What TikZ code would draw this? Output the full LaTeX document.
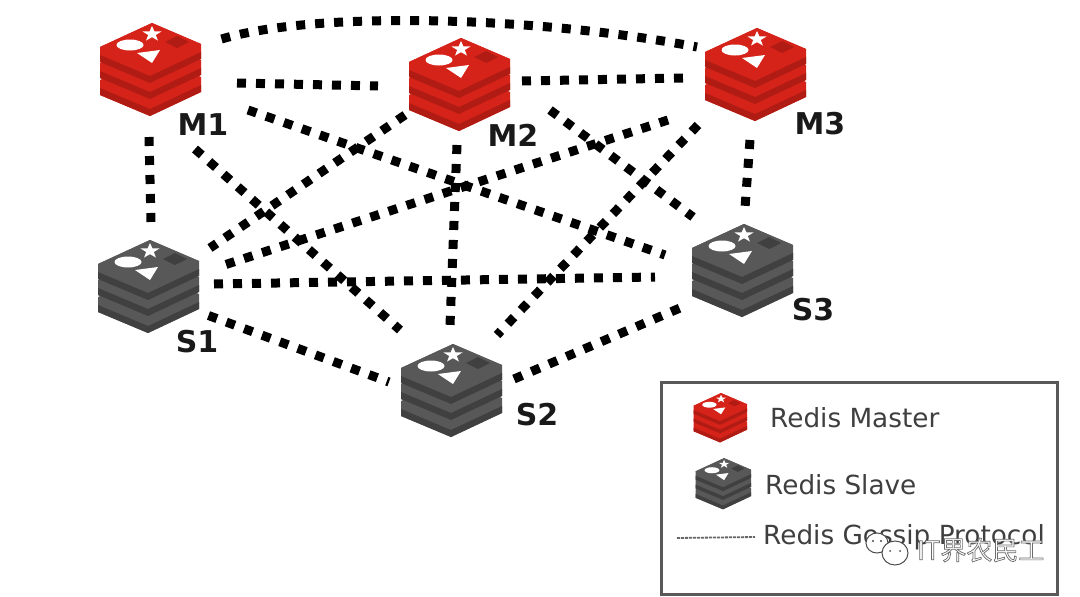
\documentclass[tikz,border=0pt]{standalone}
\usepackage{fontspec}
\setmainfont{DejaVu Sans}
\newfontfamily\cjk{Noto Sans CJK SC}
\definecolor{redA}{HTML}{D6231A}
\definecolor{redB}{HTML}{B01C13}
\definecolor{greyA}{HTML}{585858}
\definecolor{greyB}{HTML}{404040}
\definecolor{legendtext}{HTML}{3F3F3F}
\tikzset{
  x=1pt,y=-1pt,
  pics/redisicon/.style 2 args={code={
    \foreach \d in {33,16,0}{
      \fill[#1] (-50,-23+\d) -- (2,-47+\d) -- (51,-26+\d) -- (51,-11+\d) -- (0,13+\d) -- (-50,-8+\d) -- cycle;
      \fill[#2] (-50,-15+\d) -- (0,6+\d) -- (51,-18+\d) -- (51,-11+\d) -- (0,13+\d) -- (-50,-8+\d) -- cycle;
    }
    \fill[#1] (-50,-23) -- (2,-47) -- (51,-26) -- (0,-2) -- cycle;
    \fill[#2] (27,-34) -- (39,-28) -- (27,-22) -- (15,-28) -- cycle;
    \fill[white] (-20,-25) ellipse [x radius=13.5,y radius=5.5];
    \fill[white] (2,-44) -- (4.4,-38.6) -- (11.5,-38.5) -- (5.8,-35) -- (7.9,-29.5) -- (2,-32.8) -- (-3.9,-29.5) -- (-1.8,-35) -- (-7.5,-38.5) -- (-0.4,-38.6) -- cycle;
    \fill[white] (-13,-17) -- (10,-20) -- (2,-7) -- cycle;
  }},
  iconbox/.style={minimum width=100pt,minimum height=95pt,inner sep=0pt},
  gossip/.style={line width=9pt,dash pattern=on 9pt off 10pt,black},
  hostlabel/.style={font=\fontsize{30}{30}\selectfont\bfseries,text=black!90,inner sep=0pt},
  legendlabel/.style={font=\fontsize{26.3}{26.3}\selectfont,text=legendtext,anchor=west,inner sep=0pt},
  bubble/.style={fill=white,draw=black!70,line width=1pt},
}
\begin{document}
\begin{tikzpicture}
\useasboundingbox (0,0) rectangle (1080,597);
\fill[white] (0,0) rectangle (1080,597);

% hosts
\node[iconbox] (m1) at (150,70) {};
\node[iconbox] (m2) at (459,85) {};
\node[iconbox] (m3) at (755,75) {};
\node[iconbox] (s1) at (148,287) {};
\node[iconbox] (s2) at (451,391) {};
\node[iconbox] (s3) at (742,271) {};

% gossip connectors
\draw[gossip] ([shift={(71.5,-31)}]m1.center) .. controls ([shift={(170,-60)}]m1.center) and ([shift={(-215,-58)}]m3.center) .. ([shift={(-58,-28)}]m3.center);
\draw[gossip] ([shift={(87,13)}]m1.center) -- ([shift={(-81,1)}]m2.center);
\draw[gossip] ([shift={(63,-4)}]m2.center) -- ([shift={(-72,3)}]m3.center);
\draw[gossip] ([shift={(-1,67)}]m1.center) -- ([shift={(3,-65)}]s1.center);
\draw[gossip] ([shift={(-5,65)}]m3.center) -- ([shift={(3,-63)}]s3.center);
\draw[gossip] ([shift={(-2,60)}]m2.center) -- ([shift={(-1,-66)}]s2.center);
\draw[gossip] ([shift={(45,79)}]m1.center) -- ([shift={(-51,-61)}]s2.center);
\draw[gossip] ([shift={(98,40)}]m1.center) -- ([shift={(-77,-16)}]s3.center);
\draw[gossip] ([shift={(-54,30)}]m2.center) -- ([shift={(62,-39)}]s1.center);
\draw[gossip] ([shift={(91,25)}]m2.center) -- ([shift={(-49,-54)}]s3.center);
\draw[gossip] ([shift={(-87,45)}]m3.center) -- ([shift={(69,-19.6)}]s1.center);
\draw[gossip] ([shift={(-57,50)}]m3.center) -- ([shift={(46,-56)}]s2.center);
\draw[gossip] ([shift={(66,-3)}]s1.center) -- ([shift={(-87,6)}]s3.center);
\draw[gossip] ([shift={(60.5,28.5)}]s1.center) -- ([shift={(-62,-9)}]s2.center);
\draw[gossip] ([shift={(63,-12)}]s2.center) -- ([shift={(-62,37)}]s3.center);

% icons
\pic at (m1) {redisicon={redA}{redB}};
\pic at (m2) {redisicon={redA}{redB}};
\pic at (m3) {redisicon={redA}{redB}};
\pic at (s1) {redisicon={greyA}{greyB}};
\pic at (s2) {redisicon={greyA}{greyB}};
\pic at (s3) {redisicon={greyA}{greyB}};

% labels
\node[hostlabel] (lm1) at (203,125) {M1};
\node[hostlabel] (lm2) at (513,135) {M2};
\node[hostlabel] (lm3) at (820,124) {M3};
\node[hostlabel] (ls1) at (197,342) {S1};
\node[hostlabel] (ls2) at (537,415) {S2};
\node[hostlabel] (ls3) at (813,310) {S3};

% legend
\draw[line width=3pt,draw=black!65] (661,382) rectangle (1057,594);
\node[inner sep=0pt] (lgm) at (720,418) {};
\node[inner sep=0pt] (lgs) at (723,484) {};
\pic[scale=.53] at (lgm) {redisicon={redA}{redB}};
\pic[scale=.55] at (lgs) {redisicon={greyA}{greyB}};
\node[legendlabel] (tm) at (770,418) {Redis Master};
\node[legendlabel] (ts) at (765,485) {Redis Slave};
\node[legendlabel] (tg) at (763,537) {Redis Gossip Protocol};
\coordinate (lgl) at (677,538);
\coordinate (lgr) at (755,537);
\draw[line width=1.8pt,dash pattern=on 3pt off 1pt,black!60] (lgl) -- (lgr);

% watermark
\fill[bubble] (877,543) ellipse [x radius=11,y radius=10];
\fill[bubble] (895,553) ellipse [x radius=13,y radius=12];
\fill[black!70] (873,541) circle (1.2) (881,541) circle (1.2) (890,551) circle (1) (900,551) circle (1);
\node[inner sep=0pt,anchor=west,font=\cjk\fontsize{26}{26}\selectfont] (wm) at (917,550)
  {\special{pdf:code 2 Tr 0.7 w 0.42 G 1 g}IT界农民工\special{pdf:code 0 Tr 0 g 0 G}};
\end{tikzpicture}
\end{document}
